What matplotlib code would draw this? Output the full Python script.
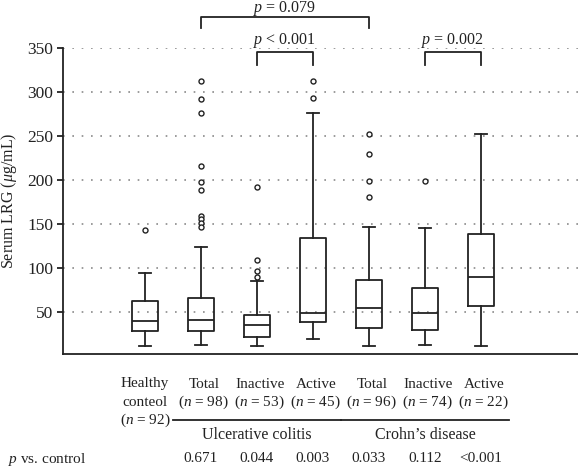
import matplotlib
matplotlib.use("Agg")
import matplotlib.pyplot as plt
import matplotlib.transforms as mtransforms

plt.rcParams['font.family'] = ['Liberation Serif', 'DejaVu Serif']
plt.rcParams['mathtext.fontset'] = 'custom'
plt.rcParams['mathtext.rm'] = 'Liberation Serif'
plt.rcParams['mathtext.it'] = 'Liberation Serif:italic'

# ---- data ----
groups = ["Healthy\nconteol", "Total", "Inactive", "Active", "Total", "Inactive", "Active"]
n_values = [92, 98, 53, 45, 96, 74, 22]
whislo = [10.6, 11.7, 10.6, 19.3, 11.4, 11.7, 10.6]
q1 = [27.6, 27.6, 21.0, 38.0, 31.4, 28.8, 56.8]
med = [40.0, 41.0, 34.5, 49.0, 53.8, 49.0, 89.8]
q3 = [62.0, 65.5, 46.6, 134.0, 85.6, 76.5, 138.0]
whishi = [94.0, 124.0, 85.0, 276.5, 147.0, 145.5, 252.0]
fliers = [
    [143],
    [312, 292, 276, 216, 198, 189, 159, 155, 151, 146],
    [192, 109, 96.6, 89.4],
    [312.5, 292.8],
    [252.6, 229.5, 199, 180],
    [199],
    [],
]
p_vs_control = ["", "0.671", "0.044", "0.003", "0.033", "0.112", "<0.001"]
disease_groups = ["Ulcerative colitis", "Crohn\u2019s disease"]
yticks = [50, 100, 150, 200, 250, 300, 350]
brackets = [(2, 5, "0.079", "="), (3, 4, "0.001", "<"), (6, 7, "0.002", "=")]

W, H = 578, 468
fig = plt.figure(figsize=(W / 100, H / 100), dpi=100)
ax_left, ax_right, ax_top, ax_bot = 63, 578, 48, 354
ax = fig.add_axes([ax_left / W, 1 - ax_bot / H, (ax_right - ax_left) / W, (ax_bot - ax_top) / H])

positions = list(range(1, len(groups) + 1))
stats = []
for i in range(len(groups)):
    stats.append(dict(whislo=whislo[i], q1=q1[i], med=med[i], q3=q3[i],
                      whishi=whishi[i], fliers=fliers[i]))
lc = '#222222'
ax.bxp(stats, positions=positions, widths=0.45, showfliers=True,
       boxprops=dict(color=lc, linewidth=1.3),
       medianprops=dict(color=lc, linewidth=1.3),
       whiskerprops=dict(color=lc, linewidth=1.3),
       capprops=dict(color=lc, linewidth=1.3),
       capwidths=0.22,
       flierprops=dict(marker='o', markersize=3.6, markerfacecolor='white',
                       markeredgecolor=lc, markeredgewidth=1.0, linestyle='none'))

ax.set_xlim(1 - (145 - ax_left) / 56, 1 + (ax_right - 145) / 56)
ax.set_ylim(2, 350)
ax.set_yticks(yticks)
ax.set_xticks([])
ax.yaxis.grid(True, linestyle=(0, (1, 4.6)), color='#8a8a8a', linewidth=1.2)
ax.set_axisbelow(True)
for s in ['top', 'right']:
    ax.spines[s].set_visible(False)
ax.spines['left'].set_color(lc)
ax.spines['bottom'].set_color(lc)
ax.spines['left'].set_linewidth(1.3)
ax.spines['bottom'].set_linewidth(1.3)
ax.tick_params(axis='y', direction='out', length=4, width=1.3, color=lc,
               labelsize=12.5, pad=3, labelcolor='#222')
ax.set_ylabel(r"Serum LRG ($\mu$g/mL)", fontsize=11.5, color='#222')
ax.yaxis.set_label_coords(-(63 - 19) / (ax_right - ax_left), 0.5)

# significance brackets
levels = [(385, 372.7, 395.0), (345, 330.7, 358.5), (345, 330.7, 358.5)]
for (a, b, val, op), (ytop, ylow, ytxt) in zip(brackets, levels):
    ax.plot([a, a, b, b], [ylow, ytop, ytop, ylow], color=lc, lw=1.3, clip_on=False)
    ax.text((a + b) / 2, ytxt, r"$p$ " + op + " " + val, ha='center', va='center',
            fontsize=11.5, color='#222', clip_on=False)

# bottom labels
trans = mtransforms.blended_transform_factory(ax.transData, fig.transFigure)
def fy(py):
    return 1 - py / H
fs = 11
for i, g in enumerate(groups):
    x = positions[i]
    if i == 0:
        ax.text(x, fy(384), "Healthy", transform=trans, ha='center', va='center', fontsize=fs, color='#222')
        ax.text(x, fy(402), "conteol", transform=trans, ha='center', va='center', fontsize=fs, color='#222')
        ax.text(x, fy(420), r"($n$ = %d)" % n_values[i], transform=trans, ha='center', va='center', fontsize=fs, color='#222')
    else:
        ax.text(x + 0.05, fy(384), g, transform=trans, ha='center', va='center', fontsize=fs, color='#222')
        ax.text(x + 0.05, fy(402), r"($n$ = %d)" % n_values[i], transform=trans, ha='center', va='center', fontsize=fs, color='#222')
    if p_vs_control[i]:
        ax.text(x, fy(459), p_vs_control[i], transform=trans, ha='center', va='center', fontsize=fs, color='#222')

# group underlines
for (a, b), name in zip([(2, 4), (5, 7)], disease_groups):
    ax.plot([a - 0.5, b + 0.5], [fy(420), fy(420)], transform=trans, color=lc, lw=1.3, clip_on=False)
    ax.text((a + b) / 2, fy(435), name, transform=trans, ha='center', va='center', fontsize=11.5, color='#222')

fig.text(8 / W, fy(459), r"$p$ vs. control", ha='left', va='center', fontsize=11, color='#222')

fig.savefig("out.png", dpi=100)
